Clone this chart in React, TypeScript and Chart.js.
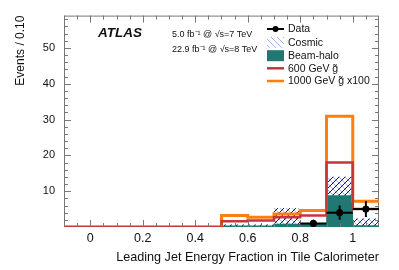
import React, { useEffect, useRef } from 'react';
import { Chart, registerables } from 'chart.js';
Chart.register(...registerables);

// ---- data ----
const binLowEdges = [-0.1, 0, 0.1, 0.2, 0.3, 0.4, 0.5, 0.6, 0.7, 0.8, 0.9, 1.0];
const binWidth = 0.1;
const beamHalo = [0, 0, 0, 0, 0, 0, 0.3, 0.3, 0.8, 1.0, 8.8, 0.4];
const cosmic = [0, 0, 0, 0, 0, 0, 0.3, 0.3, 4.4, 0, 5.1, 1.9];
const gluino600 = [0, 0, 0, 0, 0, 0, 1.6, 1.8, 2.7, 3.2, 18.0, 5.0];
const gluino1000x100 = [0, 0, 0, 0, 0, 0, 3.2, 2.7, 3.6, 4.6, 30.9, 7.2];
const dataX = [0.85, 0.95, 1.05];
const dataY = [1, 4, 5];
const dataErr = [1, 2, 2.2];
const xTickValues = [0, 0.2, 0.4, 0.6, 0.8, 1.0];
const yTickValues = [10, 20, 30, 40, 50];
const xRange = [-0.1, 1.1];
const yRange = [0, 59];

const FONT = "'Liberation Sans', Arial, Helvetica, sans-serif";
const TEAL = '#1f7872';
const RED = '#c3373c';
const ORANGE = '#ff7f0e';
const FRAME = '#777777';
const TEXT = '#111111';

function makeHatch(ctx: CanvasRenderingContext2D, withBlack: boolean) {
  const c = document.createElement('canvas');
  c.width = 6;
  c.height = 6;
  const g = c.getContext('2d')!;
  g.lineWidth = 1;
  g.strokeStyle = '#9db4e6';
  g.beginPath();
  g.moveTo(-1, -1); g.lineTo(7, 7);
  g.moveTo(-1, 5); g.lineTo(1, 7);
  g.moveTo(5, -1); g.lineTo(7, 1);
  g.stroke();
  if (withBlack) {
    g.strokeStyle = '#222';
    g.beginPath();
    g.moveTo(-1, 7); g.lineTo(7, -1);
    g.moveTo(-1, 1); g.lineTo(1, -1);
    g.moveTo(5, 7); g.lineTo(7, 5);
    g.stroke();
  }
  return ctx.createPattern(c, 'repeat')!;
}

const outline = (vals: number[]) => [
  ...binLowEdges.map((x, i) => ({ x, y: vals[i] })),
  { x: binLowEdges[binLowEdges.length - 1] + binWidth, y: vals[vals.length - 1] },
];
const centers = (vals: number[]) => binLowEdges.map((x, i) => ({ x: x + binWidth / 2, y: vals[i] }));

export default function App() {
  const ref = useRef<HTMLCanvasElement>(null);
  useEffect(() => {
    const canvas = ref.current!;
    const ctx = canvas.getContext('2d')!;
    const hatchPlot = makeHatch(ctx, true);
    const hatchLegend = makeHatch(ctx, false);

    const framePlugin = {
      id: 'frame',
      beforeDatasetsDraw(chart: any) {
        const { ctx: c, chartArea: a } = chart;
        c.save();
        c.strokeStyle = FRAME;
        c.lineWidth = 1;
        c.strokeRect(a.left + 0.5, a.top + 0.5, a.right - a.left - 1, a.bottom - a.top - 1);
        c.restore();
      },
      afterDatasetsDraw(chart: any) {
        const { ctx: c, chartArea: a, scales } = chart;
        const xs = scales.x, ys = scales.y;
        c.save();
        c.strokeStyle = FRAME;
        c.lineWidth = 1;
        c.beginPath();
        // x ticks every 0.05, major every 0.2
        for (let k = -2; k <= 22; k++) {
          const v = k * 0.05;
          const px = Math.round(xs.getPixelForValue(v)) + 0.5;
          if (px < a.left || px > a.right) continue;
          const major = k % 4 === 0;
          const len = major ? 7 : 4;
          c.moveTo(px, a.bottom); c.lineTo(px, a.bottom - len);
          c.moveTo(px, a.top); c.lineTo(px, a.top + len);
        }
        for (let k = 0; k <= 29; k++) {
          const v = k * 2;
          const py = Math.round(ys.getPixelForValue(v)) + 0.5;
          if (py < a.top || py > a.bottom) continue;
          const major = k % 5 === 0;
          const len = major ? 7 : 4;
          c.moveTo(a.left, py); c.lineTo(a.left + len, py);
          c.moveTo(a.right, py); c.lineTo(a.right - len, py);
        }
        c.stroke();
        // error bars for data
        c.strokeStyle = '#000';
        c.lineWidth = 2;
        c.beginPath();
        for (let i = 0; i < dataX.length; i++) {
          const px = xs.getPixelForValue(dataX[i]);
          const py = ys.getPixelForValue(dataY[i]);
          c.moveTo(xs.getPixelForValue(dataX[i] - binWidth / 2), py);
          c.lineTo(Math.min(a.right, xs.getPixelForValue(dataX[i] + binWidth / 2)), py);
          c.moveTo(px, ys.getPixelForValue(dataY[i] - dataErr[i]));
          c.lineTo(px, ys.getPixelForValue(dataY[i] + dataErr[i]));
        }
        c.stroke();
        c.restore();
      },
    };

    const textPlugin = {
      id: 'texts',
      afterDraw(chart: any) {
        const { ctx: c, chartArea: a } = chart;
        c.save();
        c.fillStyle = TEXT;
        // axis titles
        c.font = `12.6px ${FONT}`;
        c.textAlign = 'right';
        c.textBaseline = 'alphabetic';
        c.fillText('Leading Jet Energy Fraction in Tile Calorimeter', a.right, 261);
        c.save();
        c.font = `12px ${FONT}`;
        c.translate(24, a.top);
        c.rotate(-Math.PI / 2);
        c.textAlign = 'right';
        c.fillText('Events / 0.10', 0, 0);
        c.restore();
        // ATLAS label
        c.textAlign = 'left';
        c.font = `italic bold 13.5px ${FONT}`;
        c.fillText('ATLAS', 98, 37);
        c.font = `9px ${FONT}`;
        c.fillText('5.0 fb\u207B\u00B9 @ \u221As=7 TeV', 172, 36.5);
        c.fillText('22.9 fb\u207B\u00B9 @ \u221As=8 TeV', 172, 52);
        // legend
        const lx0 = 267, lx1 = 284, tx = 288;
        const rows = [29, 42.3, 55.7, 68.3, 81];
        c.font = `10.5px ${FONT}`;
        c.textBaseline = 'middle';
        const labels = ['Data', 'Cosmic', 'Beam-halo', '600 GeV g\u0303', '1000 GeV g\u0303 x100'];
        labels.forEach((t, i) => c.fillText(t, tx, rows[i] + 0.5));
        // data marker
        c.strokeStyle = '#000';
        c.lineWidth = 2;
        c.beginPath();
        c.moveTo(lx0, rows[0]); c.lineTo(lx1, rows[0]);
        c.stroke();
        c.fillStyle = '#000';
        c.beginPath();
        c.arc((lx0 + lx1) / 2, rows[0], 3, 0, Math.PI * 2);
        c.fill();
        // cosmic
        c.fillStyle = hatchLegend;
        c.fillRect(lx0, rows[1] - 5.5, lx1 - lx0, 11);
        // beam-halo
        c.fillStyle = TEAL;
        c.fillRect(lx0, rows[2] - 5.5, lx1 - lx0, 11);
        // lines
        c.lineWidth = 2.5;
        c.strokeStyle = RED;
        c.beginPath(); c.moveTo(lx0, rows[3]); c.lineTo(lx1, rows[3]); c.stroke();
        c.strokeStyle = ORANGE;
        c.beginPath(); c.moveTo(lx0, rows[4]); c.lineTo(lx1, rows[4]); c.stroke();
        c.restore();
      },
    };

    const chart = new Chart(ctx, {
      type: 'bar',
      data: {
        datasets: [
          {
            type: 'scatter',
            label: 'Data',
            data: dataX.map((x, i) => ({ x, y: dataY[i] })),
            backgroundColor: '#000',
            borderColor: '#000',
            pointRadius: 3.2,
            order: 0,
            stack: 'data',
          } as any,
          {
            type: 'line',
            label: '600 GeV',
            data: outline(gluino600),
            borderColor: RED,
            borderWidth: 2.5,
            pointRadius: 0,
            stepped: true,
            fill: false,
            borderJoinStyle: 'miter',
            borderCapStyle: 'butt',
            order: 1,
            stack: 'g600',
          },
          {
            type: 'line',
            label: '1000 GeV x100',
            data: outline(gluino1000x100),
            borderColor: ORANGE,
            borderWidth: 3,
            pointRadius: 0,
            stepped: true,
            fill: false,
            borderJoinStyle: 'miter',
            borderCapStyle: 'butt',
            order: 2,
            stack: 'g1000',
          },
          {
            type: 'bar',
            label: 'Beam-halo',
            data: centers(beamHalo),
            backgroundColor: TEAL,
            borderWidth: 0,
            barPercentage: 1,
            categoryPercentage: 1,
            order: 3,
            stack: 'bkg',
          },
          {
            type: 'bar',
            label: 'Cosmic',
            data: centers(cosmic),
            backgroundColor: hatchPlot,
            borderWidth: 0,
            barPercentage: 1,
            categoryPercentage: 1,
            order: 4,
            stack: 'bkg',
          },
        ],
      },
      options: {
        animation: false,
        responsive: false,
        devicePixelRatio: 1,
        layout: { padding: { top: 13, right: 20, left: 0, bottom: 0 } },
        plugins: { legend: { display: false }, tooltip: { enabled: false } },
        scales: {
          x: {
            type: 'linear',
            min: xRange[0],
            max: xRange[1],
            offset: false,
            grid: { display: false, drawTicks: false },
            border: { display: false },
            ticks: {
              font: { family: FONT, size: 12.5 },
              color: TEXT,
              padding: 4,
              maxRotation: 0,
              autoSkip: false,
              callback: (v: any) => String(Math.round(Number(v) * 10) / 10),
            },
            afterBuildTicks: (s: any) => { s.ticks = xTickValues.map((value) => ({ value })); },
            afterFit: (s: any) => { s.height = 43; },
          },
          y: {
            type: 'linear',
            min: yRange[0],
            max: yRange[1],
            stacked: true,
            grid: { display: false, drawTicks: false },
            border: { display: false },
            ticks: {
              font: { family: FONT, size: 11 },
              color: TEXT,
              padding: 9,
              autoSkip: false,
            },
            afterBuildTicks: (s: any) => { s.ticks = yTickValues.map((value) => ({ value })); },
            afterFit: (s: any) => { s.width = 64; },
          },
        },
      } as any,
      plugins: [framePlugin, textPlugin],
    });
    return () => chart.destroy();
  }, []);
  return (
    <div style={{ position: 'fixed', left: 0, top: 0, width: 399, height: 270, background: '#fff' }}>
      <canvas ref={ref} width={399} height={270} style={{ display: 'block', width: 399, height: 270 }} />
    </div>
  );
}
